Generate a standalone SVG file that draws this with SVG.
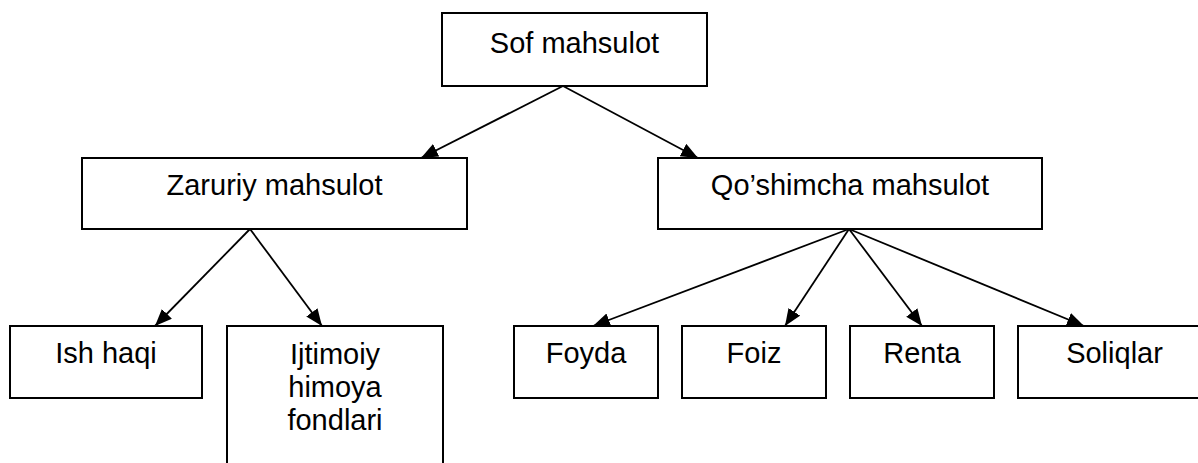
<svg xmlns="http://www.w3.org/2000/svg" width="1198" height="463" viewBox="0 0 1198 463">
<style>
.box{fill:#fff;stroke:#000;stroke-width:2}
.t{font-family:"Liberation Sans",Arial,sans-serif;font-size:29px;fill:#000;text-anchor:middle}
.c{stroke:#000;stroke-width:1.8;fill:none;marker-end:url(#ah)}
</style>
<defs>
<marker id="ah" markerUnits="userSpaceOnUse" markerWidth="18" markerHeight="16" refX="17" refY="7" orient="auto">
<path d="M0,0 L17,7 L0,14 z" fill="#000"/>
</marker>
</defs>
<rect width="1198" height="463" fill="#fff"/>
<g id="connectors">
<line class="c" x1="563" y1="86" x2="421" y2="158"/>
<line class="c" x1="563" y1="86" x2="698" y2="158"/>
<line class="c" x1="250" y1="229" x2="155" y2="326"/>
<line class="c" x1="250" y1="229" x2="322" y2="326"/>
<line class="c" x1="849" y1="229" x2="593" y2="326"/>
<line class="c" x1="849" y1="229" x2="785" y2="326"/>
<line class="c" x1="849" y1="229" x2="922" y2="326"/>
<line class="c" x1="849" y1="229" x2="1084" y2="326"/>
</g>
<g id="sof">
<rect class="box" x="442" y="13" width="265" height="73"/>
<text class="t" x="574.5" y="52.5">Sof mahsulot</text>
</g>
<g id="zaruriy">
<rect class="box" x="82" y="158" width="385" height="71"/>
<text class="t" x="274.5" y="195">Zaruriy mahsulot</text>
</g>
<g id="qoshimcha">
<rect class="box" x="658" y="158" width="384" height="71"/>
<text class="t" x="850" y="195">Qo’shimcha mahsulot</text>
</g>
<g id="ishhaqi">
<rect class="box" x="10" y="326" width="192" height="72"/>
<text class="t" x="106" y="363">Ish haqi</text>
</g>
<g id="ijtimoiy">
<rect class="box" x="227" y="326" width="216" height="160"/>
<text class="t" x="335" y="364">Ijtimoiy</text>
<text class="t" x="335" y="397">himoya</text>
<text class="t" x="335" y="430">fondlari</text>
</g>
<g id="foyda">
<rect class="box" x="514" y="326" width="144" height="72"/>
<text class="t" x="586" y="363">Foyda</text>
</g>
<g id="foiz">
<rect class="box" x="682" y="326" width="144" height="72"/>
<text class="t" x="754" y="363">Foiz</text>
</g>
<g id="renta">
<rect class="box" x="850" y="326" width="144" height="72"/>
<text class="t" x="922" y="363">Renta</text>
</g>
<g id="soliqlar">
<rect class="box" x="1018" y="326" width="193" height="72"/>
<text class="t" x="1114.5" y="363">Soliqlar</text>
</g>
</svg>
